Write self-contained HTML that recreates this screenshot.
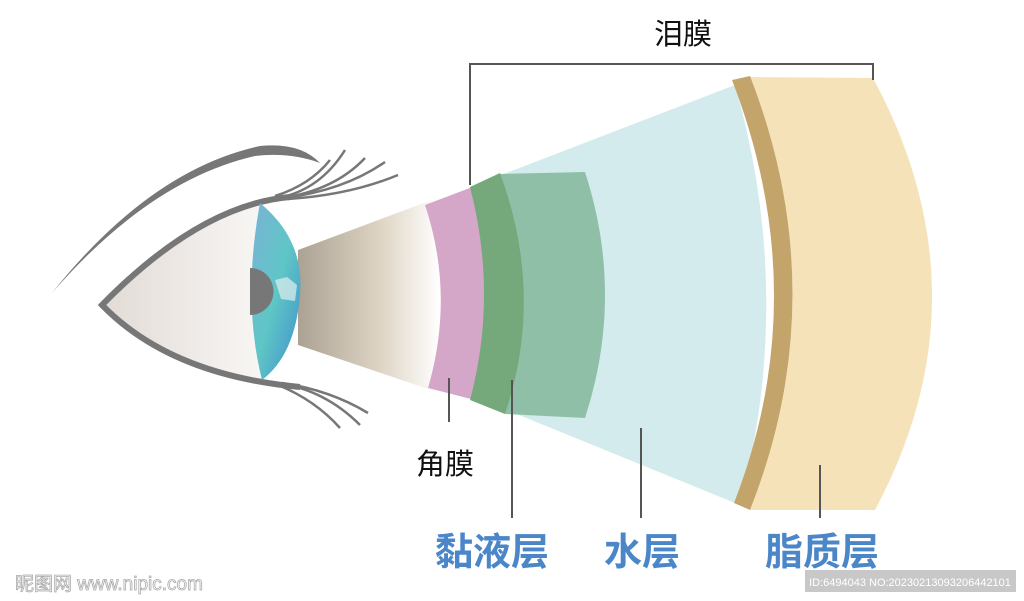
<!DOCTYPE html>
<html><head><meta charset="utf-8"><style>
body{margin:0;background:#fff;width:1024px;height:601px;overflow:hidden}
svg{display:block}
text{font-family:"Liberation Sans","Noto Sans CJK SC",sans-serif}
</style></head><body>
<svg width="1024" height="601" viewBox="0 0 1024 601">
<defs>
<linearGradient id="cone" x1="0" x2="1" y1="0" y2="0"><stop offset="0" stop-color="#aca293"/><stop offset="0.6" stop-color="#e0d6c6"/><stop offset="1" stop-color="#fff"/></linearGradient>
<linearGradient id="white" x1="0" x2="1"><stop offset="0" stop-color="#e2dbd6"/><stop offset="1" stop-color="#f8f6f4"/></linearGradient>
<linearGradient id="iris" x1="0" x2="1" y1="0" y2="1"><stop offset="0" stop-color="#7ab2d6"/><stop offset="0.5" stop-color="#5fc6c6"/><stop offset="1" stop-color="#3f8ecc"/></linearGradient>
</defs>
<!-- water layer -->
<path d="M470,187 L735,85 Q795,295 740,505 L470,395 Z" fill="#d3ebec"/>
<!-- cornea cone -->
<path d="M298,250 L440,197 L440,393 L298,345 Z" fill="url(#cone)"/>
<!-- pink cornea -->
<path d="M425,205 L475,186 Q500,295 475,400 L428,388 Q455,295 425,205 Z" fill="#d4a7c9"/>
<!-- light green -->
<path d="M500,174 L585,172 Q625,295 585,418 L505,414 Q530,295 500,174 Z" fill="#8fc0a7"/>
<!-- dark green -->
<path d="M470,187 L500,173 Q545,295 505,414 L470,400 Q498,295 470,187 Z" fill="#75a97b"/>
<!-- lipid -->
<path d="M750,77 L873,78 Q990,295 875,510 L750,510 Q835,295 750,77 Z" fill="#f5e2b8"/>
<!-- brown band -->
<path d="M732,80 L750,76 Q835,295 750,510 L734,503 Q815,295 732,80 Z" fill="#c3a56c"/>
<!-- eyebrow -->
<path d="M52,293 Q150,170 260,146 Q300,142 320,163 Q290,152 255,156 Q150,180 52,293 Z" fill="#777"/>
<!-- lashes -->
<g stroke="#777" stroke-width="2.5" fill="none">
<path d="M278,198 Q320,190 345,150"/><path d="M282,198 Q335,190 365,158"/><path d="M285,198 Q345,190 385,162"/><path d="M288,199 Q350,195 398,175"/><path d="M275,196 Q310,185 330,160"/>
<path d="M278,383 Q325,390 360,425"/><path d="M282,383 Q330,390 368,413"/><path d="M278,385 Q315,400 340,428"/>
</g>
<!-- eye -->
<path d="M102,305 Q170,225 262,205 L262,380 Q170,370 102,305 Z" fill="url(#white)"/>
<path d="M290,197 Q200,205 102,305 Q170,375 300,387" fill="none" stroke="#777" stroke-width="6" stroke-linejoin="miter"/>
<path d="M260,203 Q305,240 300,295 Q295,355 262,380 Q242,300 260,203 Z" fill="url(#iris)"/>
<path d="M250,268 A22,22 0 0 1 250,315 Z" fill="#777"/>
<path d="M275,280 l12,-3 l10,8 l-2,16 l-14,-2 Z" fill="#cfe8e8" opacity="0.8"/>
<!-- bracket -->
<path d="M470,185 L470,64 L873,64 L873,80" stroke="#555" stroke-width="2" fill="none"/>
<!-- leader lines -->
<g stroke="#555" stroke-width="2">
<line x1="449" y1="378" x2="449" y2="422"/><line x1="512" y1="380" x2="512" y2="518"/>
<line x1="641" y1="428" x2="641" y2="518"/><line x1="820" y1="465" x2="820" y2="518"/>
</g>
<text x="683" y="44" font-size="29" text-anchor="middle" fill="#111">泪膜</text>
<text x="445" y="474" font-size="29" text-anchor="middle" fill="#111">角膜</text>
<g fill="#4a86c8" font-size="38" font-weight="bold" text-anchor="middle">
<text x="492" y="565">黏液层</text><text x="642" y="565">水层</text><text x="822" y="565">脂质层</text>
</g>
<text x="15" y="590" font-size="19" fill="#fff" stroke="#aaa" stroke-width="0.8">昵图网 www.nipic.com</text>
<rect x="805" y="570" width="211" height="22" fill="#c8c8c8"/>
<text x="910" y="586" font-size="11" fill="#fff" text-anchor="middle">ID:6494043 NO:20230213093206442101</text>
</svg>
</body></html>
